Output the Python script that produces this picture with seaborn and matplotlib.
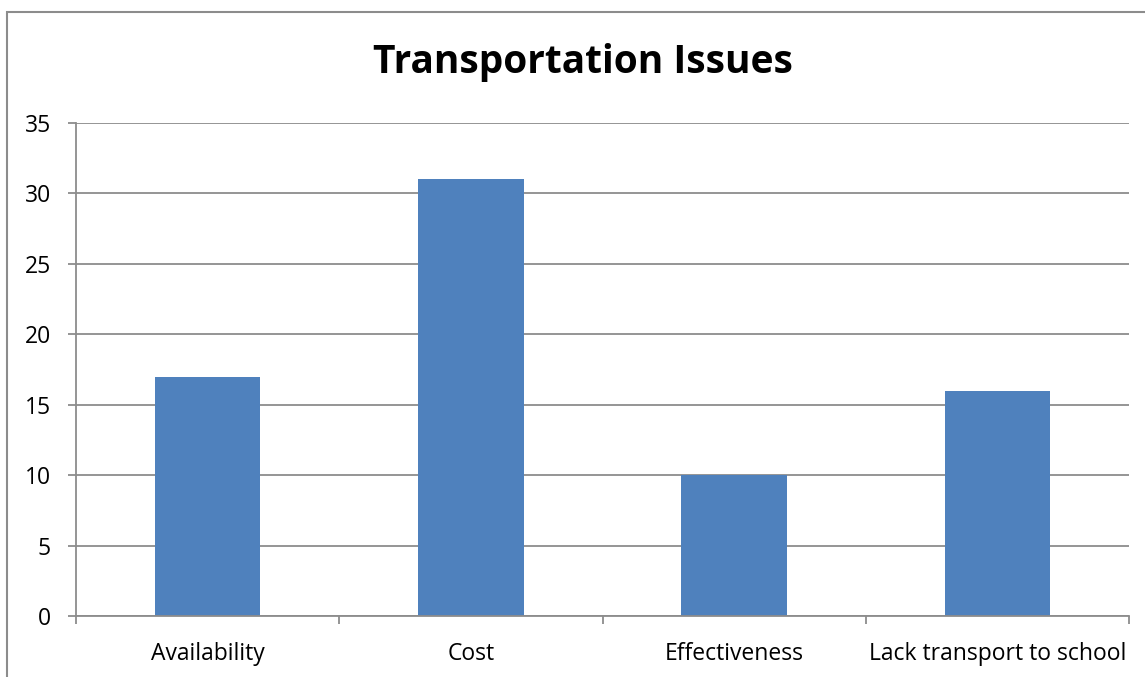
import matplotlib
matplotlib.use("Agg")
import matplotlib.pyplot as plt
import seaborn as sns
import pandas as pd
from matplotlib.patches import Rectangle

categories = ["Availability", "Cost", "Effectiveness", "Lack transport to school"]
values = [17, 31, 10, 16]
yticks = [0, 5, 10, 15, 20, 25, 30, 35]
title = "Transportation Issues"

sns.set_theme(style="white")
plt.rcParams['font.family'] = ['Open Sans', 'DejaVu Sans']
plt.rcParams['text.color'] = 'black'

W, H = 1145, 677
fig = plt.figure(figsize=(W / 100, H / 100), dpi=100)
ax = fig.add_axes([76 / W, 1 - 616 / H, (1129 - 76) / W, (616 - 123) / H])

df = pd.DataFrame({"cat": categories, "val": values})
sns.barplot(data=df, x="cat", y="val", color="#4F81BD", saturation=1, width=0.4,
            linewidth=0, ax=ax)

grid_c = "#8c8c8c"
ax.set_ylim(0, 35)
ax.set_xlim(-0.5, len(categories) - 0.5)
ax.set_yticks(yticks)
ax.set_yticklabels([str(t) for t in yticks], fontsize=16.5, color="black")
ax.yaxis.grid(True, color=grid_c, linewidth=1.3)
ax.set_axisbelow(True)
for s in ["top", "right"]:
    ax.spines[s].set_visible(False)
for s in ["left", "bottom"]:
    ax.spines[s].set_color(grid_c)
    ax.spines[s].set_linewidth(1.3)
ax.tick_params(axis="y", which="major", length=6, color=grid_c, width=1.3, left=True, pad=12)
ax.set_xticks(range(len(categories)))
ax.set_xticklabels(categories, fontsize=16.5, color="black")
ax.tick_params(axis="x", which="major", length=0, pad=19)
ax.set_xticks([i - 0.5 for i in range(len(categories) + 1)], minor=True)
ax.tick_params(axis="x", which="minor", length=6, color=grid_c, width=1.3, bottom=True)
ax.set_xlabel("")
ax.set_ylabel("")

fig.text(583 / W, 1 - 62 / H, title, ha="center", va="center", fontsize=28,
         fontweight="bold", color="black")

fig.patches.append(Rectangle((7 / W, -0.05), 1.1, 1 - 12 / H + 0.05, transform=fig.transFigure,
                             fill=False, edgecolor="#8c8c8c", linewidth=1.5))

fig.savefig("out.png", dpi=100)
